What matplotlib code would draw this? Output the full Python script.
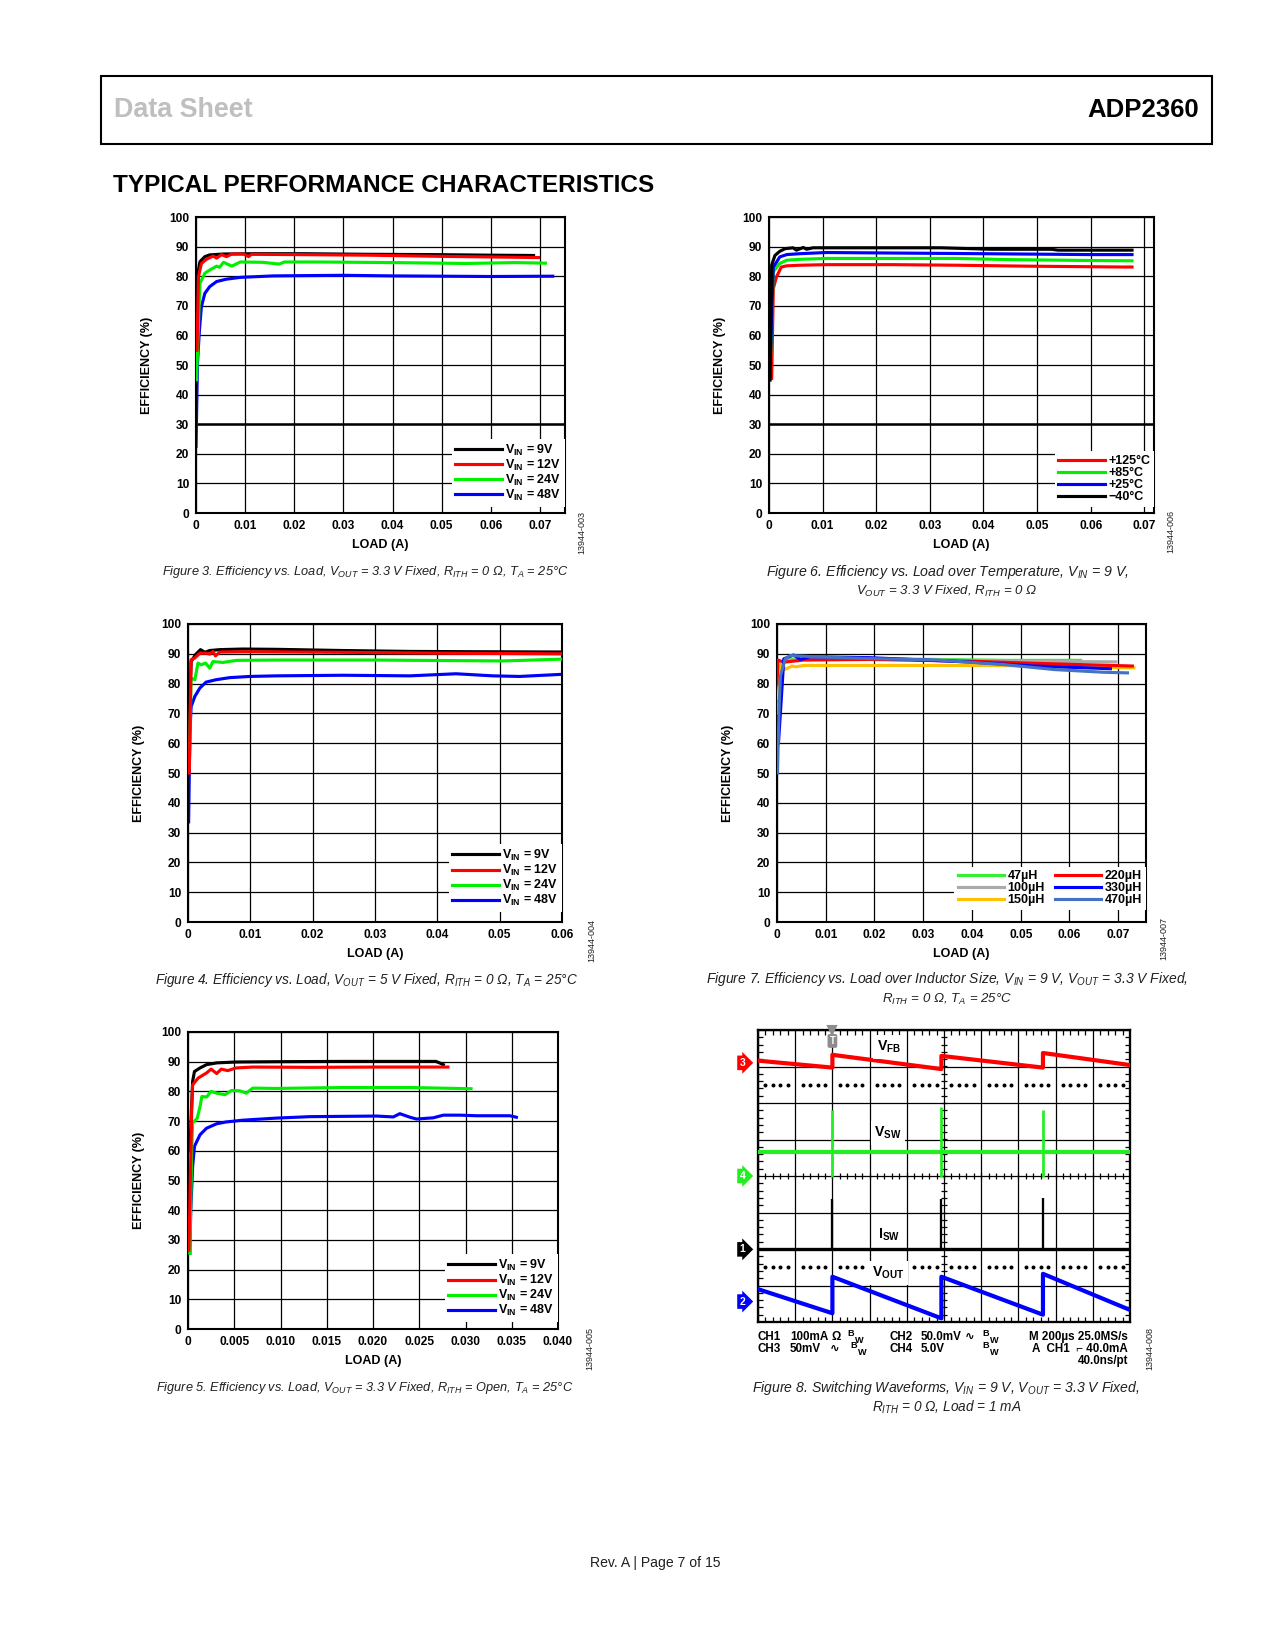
import numpy as np
import matplotlib
matplotlib.use("Agg")
import matplotlib.pyplot as plt
from matplotlib import font_manager
from matplotlib.patches import Rectangle
from matplotlib.ticker import MultipleLocator
from matplotlib.transforms import blended_transform_factory

# ---------------- data ----------------
# Figure 3: Vout = 3.3 V, Rith = 0
f3_load_9v = [0.0001, 0.0004, 0.0008, 0.0018, 0.0028, 0.0056, 0.012, 0.022, 0.035, 0.048, 0.06, 0.0687]
f3_eff_9v = [62.0, 81.0, 84.9, 86.6, 87.2, 87.5, 87.6, 87.6, 87.4, 87.3, 87.1, 87.0]
f3_load_12v = [0.0002, 0.0005, 0.0011, 0.0021, 0.0035, 0.0042, 0.0052, 0.0062, 0.0073, 0.0097,
               0.0107, 0.0113, 0.02, 0.035, 0.05, 0.06, 0.0697]
f3_eff_12v = [55.0, 79.8, 84.3, 85.7, 86.8, 86.1, 87.3, 86.6, 87.5, 87.5,
              86.6, 87.4, 87.3, 87.1, 86.7, 86.5, 86.3]
f3_load_24v = [0.0001, 0.0008, 0.0018, 0.0028, 0.0042, 0.0048, 0.0056, 0.0073, 0.009, 0.0135,
               0.0169, 0.018, 0.025, 0.04, 0.055, 0.065, 0.0711]
f3_eff_24v = [45.0, 77.6, 81.0, 82.1, 83.4, 83.0, 84.7, 83.4, 84.8, 84.7,
              84.1, 84.8, 84.8, 84.6, 84.3, 84.6, 84.4]
f3_load_48v = [0.0, 0.0003, 0.0007, 0.0011, 0.0018, 0.0028, 0.0042, 0.0062, 0.009, 0.0157,
               0.0224, 0.03, 0.04, 0.05, 0.06, 0.0726]
f3_eff_48v = [22.5, 50.6, 61.8, 69.7, 74.2, 76.5, 78.2, 79.0, 79.6, 80.1,
              80.2, 80.3, 80.1, 80.0, 79.9, 80.0]

# Figure 4: Vout = 5 V, Rith = 0
f4_load_9v = [0.0003, 0.0005, 0.0012, 0.002, 0.0027, 0.0035, 0.0051, 0.0088, 0.0142, 0.0249, 0.0356, 0.0463, 0.0599]
f4_eff_9v = [75.0, 87.4, 89.7, 91.4, 90.5, 91.1, 91.4, 91.6, 91.5, 91.1, 90.8, 90.7, 90.6]
f4_load_12v = [0.0002, 0.0005, 0.0011, 0.0019, 0.0029, 0.0035, 0.004, 0.0044, 0.0051, 0.0088, 0.0249, 0.0409, 0.0599]
f4_eff_12v = [50.0, 88.0, 88.6, 90.2, 90.2, 89.9, 90.8, 89.3, 90.6, 90.7, 90.5, 90.2, 90.0]
f4_load_24v = [0.0002, 0.0005, 0.0011, 0.0016, 0.0021, 0.0028, 0.0035, 0.004, 0.0056, 0.0078,
               0.0142, 0.0302, 0.0505, 0.0599]
f4_eff_24v = [52.0, 81.8, 81.3, 86.9, 86.3, 86.9, 85.2, 87.4, 87.1, 87.8,
              87.9, 87.9, 87.6, 88.2]
f4_load_48v = [0.0001, 0.0003, 0.0005, 0.0011, 0.0019, 0.0029, 0.0045, 0.0067, 0.0099, 0.0142,
               0.0249, 0.0356, 0.043, 0.0489, 0.0532, 0.0599]
f4_eff_48v = [33.6, 63.0, 72.3, 75.7, 78.5, 80.5, 81.3, 82.0, 82.4, 82.6,
              82.8, 82.6, 83.3, 82.6, 82.4, 83.1]

# Figure 5: Vout = 3.3 V, Rith = open
f5_load_9v = [0.0002, 0.0005, 0.0007, 0.0013, 0.002, 0.0031, 0.0052, 0.0095, 0.0168, 0.0268, 0.0272, 0.0276]
f5_eff_9v = [60.0, 83.4, 86.7, 87.9, 89.0, 89.6, 89.9, 90.0, 90.1, 90.1, 89.6, 89.0]
f5_load_12v = [0.0001, 0.0004, 0.0005, 0.0011, 0.002, 0.0025, 0.0031, 0.0036, 0.0043, 0.0052,
               0.007, 0.0132, 0.0204, 0.0281]
f5_eff_12v = [26.6, 73.8, 82.2, 84.5, 86.2, 87.5, 86.0, 87.5, 87.0, 87.9,
              88.2, 88.1, 88.2, 88.2]
f5_load_24v = [0.0002, 0.0004, 0.0005, 0.001, 0.0013, 0.0015, 0.002, 0.0025, 0.0031, 0.004,
               0.0047, 0.0056, 0.0063, 0.007, 0.0095, 0.0168, 0.024, 0.0306]
f5_eff_24v = [25.5, 60.0, 69.3, 71.0, 74.9, 78.3, 78.1, 80.0, 79.4, 78.9,
              80.3, 80.2, 79.4, 81.1, 81.0, 81.3, 81.3, 80.9]
f5_load_48v = [0.0002, 0.0003, 0.0005, 0.0007, 0.0013, 0.002, 0.0031, 0.0041, 0.0059, 0.0095,
               0.0132, 0.0204, 0.0222, 0.0229, 0.024, 0.0247, 0.0265, 0.0276, 0.0294, 0.0312,
               0.0348, 0.0355]
f5_eff_48v = [25.5, 40.0, 54.7, 61.5, 65.4, 67.6, 69.1, 69.7, 70.3, 71.0,
              71.5, 71.7, 71.4, 72.5, 71.3, 70.7, 71.1, 72.0, 72.0, 71.8,
              71.8, 71.3]

# Figure 6: over temperature
f6_load_m40 = [0.0002, 0.0005, 0.0011, 0.002, 0.003, 0.0045, 0.0051, 0.0064, 0.007, 0.0082,
               0.032, 0.0415, 0.0527, 0.0539, 0.0677]
f6_eff_m40 = [44.9, 83.7, 87.0, 88.4, 89.3, 89.6, 88.8, 89.7, 89.1, 89.6,
              89.6, 89.1, 89.1, 88.8, 88.8]
f6_load_25 = [0.0002, 0.0008, 0.002, 0.0033, 0.0057, 0.0107, 0.025, 0.04, 0.06, 0.0677]
f6_eff_25 = [50.0, 83.0, 86.5, 87.3, 87.6, 88.0, 87.8, 87.6, 87.3, 87.3]
f6_load_85 = [0.0002, 0.0008, 0.002, 0.0033, 0.0057, 0.0107, 0.035, 0.045, 0.06, 0.0677]
f6_eff_85 = [48.0, 81.5, 84.3, 85.4, 85.7, 86.0, 86.0, 85.6, 85.3, 85.2]
f6_load_125 = [0.0005, 0.0008, 0.0014, 0.0023, 0.0033, 0.0057, 0.0107, 0.023, 0.0354, 0.0477, 0.066, 0.0677]
f6_eff_125 = [45.5, 75.8, 79.8, 83.1, 83.5, 83.7, 83.9, 83.9, 83.7, 83.4, 83.1, 83.1]

# Figure 7: over inductor size
f7_load_47 = [0.0002, 0.0008, 0.0014, 0.0055, 0.019, 0.033, 0.047, 0.0623]
f7_eff_47 = [72.0, 86.0, 87.8, 88.4, 88.4, 88.1, 87.8, 87.8]
f7_load_100 = [0.0002, 0.0008, 0.0014, 0.0055, 0.019, 0.033, 0.047, 0.0695]
f7_eff_100 = [70.0, 85.0, 87.5, 88.3, 88.3, 87.9, 87.5, 87.3]
f7_load_150 = [0.0002, 0.0007, 0.0011, 0.0016, 0.0031, 0.0038, 0.0055, 0.02, 0.046, 0.06, 0.0732]
f7_eff_150 = [75.0, 85.3, 87.0, 84.7, 85.9, 85.6, 86.1, 86.1, 86.1, 85.5, 85.3]
f7_load_220 = [0.0, 0.0002, 0.0014, 0.0055, 0.019, 0.04, 0.053, 0.0729]
f7_eff_220 = [80.0, 87.9, 87.2, 87.9, 88.1, 87.5, 86.8, 85.9]
f7_load_330 = [0.0003, 0.0014, 0.0034, 0.0048, 0.0068, 0.019, 0.04, 0.053, 0.0684]
f7_eff_330 = [60.0, 88.3, 89.6, 88.1, 89.0, 88.7, 87.2, 85.9, 85.0]
f7_load_470 = [0.0001, 0.0004, 0.0007, 0.0017, 0.0027, 0.0055, 0.0075, 0.019, 0.033, 0.0465,
               0.057, 0.0671, 0.0719]
f7_eff_470 = [50.0, 70.0, 82.6, 88.3, 89.4, 89.2, 89.0, 88.4, 87.9, 86.4,
              84.7, 83.8, 83.6]

# Figure 8: scope, time in us, levels in divisions from screen centre
sw_t = [400, 986, 1532]
vfb_t = [0, 400, 400, 986, 986, 1532, 1532, 2000]
vfb_div = [3.16, 2.97, 3.32, 2.93, 3.29, 2.97, 3.37, 3.04]
vout_t = [0, 400, 400, 986, 986, 1532, 1532, 2000]
vout_div = [-3.10, -3.76, -2.76, -3.90, -2.76, -3.80, -2.68, -3.67]
vsw_base = 0.67
vsw_hi = [1.81, 1.90, 1.81]
vsw_lo = [-0.04, -0.04, -0.04]
isw_base = -2.01
isw_hi = [-0.64, -0.64, -0.60]
ch_marks = ["3", "4", "1", "2"]
ch_levels = [3.1, 0.0, -2.01, -3.44]
ch_colors = ["#ff0000", "#22ee22", "#000000", "#0000ff"]
cursor_levels = [2.5, -2.5]

# ---------------- page set-up ----------------
W, H = 1275, 1650
names = {f.name for f in font_manager.fontManager.ttflist}
SANS = "Liberation Sans" if "Liberation Sans" in names else "DejaVu Sans"
NARROW = "Liberation Sans Narrow" if "Liberation Sans Narrow" in names else SANS

plt.rcParams["font.family"] = [SANS, "DejaVu Sans"]
plt.rcParams["font.weight"] = "bold"
plt.rcParams["axes.labelweight"] = "bold"
plt.rcParams["mathtext.default"] = "regular"
plt.rcParams["axes.axisbelow"] = True

fig = plt.figure(figsize=(W / 150, H / 150), dpi=150)
renderer = fig.canvas.get_renderer()


def box(l, t, r, b):
    return [l / W, 1 - b / H, (r - l) / W, (b - t) / H]


def ftext(x, y, s, width=None, **kw):
    t = fig.text(x / W, 1 - y / H, s, **kw)
    if width:
        bb = t.get_window_extent(renderer)
        t.set_fontsize(t.get_fontsize() * width / bb.width)
    return t


def caption(cx, cy, s, width):
    ftext(cx, cy, s, width, family=[NARROW, "DejaVu Sans"], style="italic",
          weight="normal", fontsize=7.5, ha="center", va="center", color="#231f20")


def stamp(x, y, s):
    ftext(x, y, s, family=[NARROW, "DejaVu Sans"], weight="normal", fontsize=4.3,
          rotation=90, ha="center", va="center", color="#231f20")


def eff_panel(px, xmax, xticks, xlabels, series, gap, thick30=False, ncol=1):
    l, t, r, b = px
    ax = fig.add_axes(box(*px))
    handles, labels = [], []
    for lab, xs, ys, col, z in series:
        ln, = ax.plot(xs, ys, color=col, lw=1.5, zorder=2 + z, solid_joinstyle="round")
        handles.append(ln)
        labels.append(lab)
    ax.set_xlim(0, xmax)
    ax.set_ylim(0, 100)
    ax.set_xticks(xticks)
    ax.set_xticklabels(xlabels)
    ax.set_yticks(np.arange(0, 101, 10))
    ax.grid(True, color="black", lw=0.6)
    if thick30:
        ax.axhline(30, color="black", lw=1.2, zorder=1)
    ax.tick_params(length=0, labelsize=5.7)
    ax.tick_params(axis="x", pad=3.4)
    ax.tick_params(axis="y", pad=3.2)
    for s in ax.spines.values():
        s.set_linewidth(1.0)
    ax.set_xlabel("LOAD (A)", fontsize=6.0)
    ax.xaxis.set_label_coords(0.5, -32 / (b - t))
    ax.xaxis.label.set_va("center")
    ax.set_ylabel("EFFICIENCY (%)", fontsize=6.0)
    ax.yaxis.set_label_coords(-49 / (r - l), 0.5)
    ax.yaxis.label.set_va("center")
    leg = ax.legend(handles, labels, loc="lower right", bbox_to_anchor=(1.0, gap / (b - t)),
                    ncol=ncol, frameon=True, fancybox=False, framealpha=1, facecolor="white",
                    edgecolor="none", fontsize=6.0, handlelength=3.7, handletextpad=0.3,
                    labelspacing=0.0, borderpad=0.3, borderaxespad=0.0, columnspacing=0.8)
    leg.get_frame().set_linewidth(0)
    leg.set_zorder(10)
    return ax


RED, GREEN, BLUE, BLACK = "#ff0000", "#00ee00", "#0000ff", "#000000"
x07 = np.arange(0, 0.071, 0.01)
x07_lab = ["0"] + ["%.2f" % v for v in x07[1:]]

# Figure 3
eff_panel((196, 217, 565, 513), 0.0751, x07, x07_lab,
          [(r"V$_{IN}$ = 9V", f3_load_9v, f3_eff_9v, BLACK, 2),
           (r"V$_{IN}$ = 12V", f3_load_12v, f3_eff_12v, RED, 3),
           (r"V$_{IN}$ = 24V", f3_load_24v, f3_eff_24v, GREEN, 1),
           (r"V$_{IN}$ = 48V", f3_load_48v, f3_eff_48v, BLUE, 0)],
          gap=6.3, thick30=True)

# Figure 4
x06 = np.arange(0, 0.061, 0.01)
eff_panel((188, 624, 562, 922), 0.06, x06, ["0"] + ["%.2f" % v for v in x06[1:]],
          [(r"V$_{IN}$ = 9V", f4_load_9v, f4_eff_9v, BLACK, 2),
           (r"V$_{IN}$ = 12V", f4_load_12v, f4_eff_12v, RED, 3),
           (r"V$_{IN}$ = 24V", f4_load_24v, f4_eff_24v, GREEN, 1),
           (r"V$_{IN}$ = 48V", f4_load_48v, f4_eff_48v, BLUE, 0)],
          gap=10)

# Figure 5
x04 = np.arange(0, 0.0401, 0.005)
eff_panel((188, 1032, 558, 1329), 0.04, x04, ["0"] + ["%.3f" % v for v in x04[1:]],
          [(r"V$_{IN}$ = 9V", f5_load_9v, f5_eff_9v, BLACK, 2),
           (r"V$_{IN}$ = 12V", f5_load_12v, f5_eff_12v, RED, 3),
           (r"V$_{IN}$ = 24V", f5_load_24v, f5_eff_24v, GREEN, 1),
           (r"V$_{IN}$ = 48V", f5_load_48v, f5_eff_48v, BLUE, 0)],
          gap=7)

# Figure 6
eff_panel((769, 217, 1154, 513), 0.0718, x07, x07_lab,
          [("+125°C", f6_load_125, f6_eff_125, RED, 0),
           ("+85°C", f6_load_85, f6_eff_85, GREEN, 1),
           ("+25°C", f6_load_25, f6_eff_25, BLUE, 2),
           ("\u221240°C", f6_load_m40, f6_eff_m40, BLACK, 3)],
          gap=6.3, thick30=True)

# Figure 7
eff_panel((777, 624, 1146, 922), 0.0757, x07, x07_lab,
          [("47µH", f7_load_47, f7_eff_47, "#33ee33", 0),
           ("100µH", f7_load_100, f7_eff_100, "#aaaaaa", 1),
           ("150µH", f7_load_150, f7_eff_150, "#ffc000", 2),
           ("220µH", f7_load_220, f7_eff_220, RED, 3),
           ("330µH", f7_load_330, f7_eff_330, BLUE, 4),
           ("470µH", f7_load_470, f7_eff_470, "#4472c4", 5)],
          gap=12, ncol=2)

# Figure 8: switching waveforms
ax8 = fig.add_axes(box(758, 1030, 1130, 1322))
ax8.set_xlim(0, 2000)
ax8.set_ylim(-4, 4)
ax8.set_xticks(np.arange(0, 2001, 200))
ax8.set_yticks(np.arange(-4, 5, 1))
ax8.grid(True, color="black", lw=0.6)
ax8.xaxis.set_minor_locator(MultipleLocator(40))
ax8.yaxis.set_minor_locator(MultipleLocator(0.2))
ax8.tick_params(which="major", length=0, labelbottom=False, labelleft=False)
ax8.tick_params(which="minor", direction="in", length=2.2, width=0.6,
                top=True, right=True, bottom=True, left=True)
for s in ax8.spines.values():
    s.set_linewidth(1.1)
dots = [v for v in np.arange(0, 2000, 40) if v % 200]
for lev in cursor_levels:
    ax8.plot(dots, np.full(len(dots), lev), ls="none", marker="o", ms=0.9, color="black")
ax8.plot(np.full(41, 1000), np.arange(-4, 4.01, 0.2), ls="none", marker="_", ms=3, mew=0.6, color="black")
ax8.plot(np.arange(0, 2001, 40), np.zeros(51), ls="none", marker="|", ms=3, mew=0.6, color="black")

ax8.plot(vfb_t, vfb_div, color="#ff0000", lw=2.0, zorder=4)
ax8.axhline(vsw_base, color="#22ee22", lw=2.0, zorder=4)
ax8.vlines(sw_t, vsw_lo, vsw_hi, color="#22ee22", lw=1.3, zorder=4)
ax8.axhline(isw_base, color="black", lw=1.6, zorder=4)
ax8.vlines(sw_t, isw_base, isw_hi, color="black", lw=1.1, zorder=4)
ax8.plot(vout_t, vout_div, color="#0000ff", lw=2.0, zorder=4)

for s, tx, ty in [(r"V$_{FB}$", 703, 3.54), (r"V$_{SW}$", 700, 1.18),
                  (r"I$_{SW}$", 703, -1.62), (r"V$_{OUT}$", 700, -2.66)]:
    ax8.text(tx, ty, s, fontsize=6.8, ha="center", va="center", zorder=6,
             bbox=dict(boxstyle="square,pad=0.25", fc="white", ec="none"))

ax8.text(sw_t[0], 3.7, "T", fontsize=4.6, color="white", ha="center", va="center", zorder=7,
         bbox=dict(boxstyle="round,pad=0.2", fc="#8c8c8c", ec="none"))
ax8.plot([sw_t[0]], [4.0], marker="v", ms=3.5, color="#8c8c8c", clip_on=False, zorder=7)

btrans = blended_transform_factory(ax8.transAxes, ax8.transData)
for m, lev, col in zip(ch_marks, ch_levels, ch_colors):
    ax8.text(-0.042, lev, m, transform=btrans, fontsize=5.0, color="white", ha="center",
             va="center", clip_on=False,
             bbox=dict(boxstyle="rarrow,pad=0.22", fc=col, ec="none"))

# scope readout
ro = dict(fontsize=5.6, va="center", ha="left")
sub = dict(fontsize=4.4, va="center", ha="left")
fam = [SANS, "DejaVu Sans"]
for x, y, s, kw in [(758, 1337, "CH1", ro), (790, 1337, "100mA", ro), (832, 1337, "Ω", ro),
                    (847, 1333.5, "B", sub), (855, 1340.5, "W", sub),
                    (890, 1337, "CH2", ro), (921, 1337, "50.0mV", ro), (965, 1337, "∿", ro),
                    (982, 1333.5, "B", sub), (990, 1340.5, "W", sub),
                    (758, 1349, "CH3", ro), (790, 1349, "50mV", ro), (830, 1349, "∿", ro),
                    (850, 1345.5, "B", sub), (858, 1352.5, "W", sub),
                    (890, 1349, "CH4", ro), (921, 1349, "5.0V", ro),
                    (982, 1345.5, "B", sub), (990, 1352.5, "W", sub)]:
    ftext(x, y, s, family=fam, **kw)
ftext(1128, 1337, "M 200µs 25.0MS/s", family=fam, fontsize=5.6, va="center", ha="right")
ftext(1128, 1349, "A  CH1  \u2310 40.0mA", family=fam, fontsize=5.6, va="center", ha="right")
ftext(1128, 1361, "40.0ns/pt", family=fam, fontsize=5.6, va="center", ha="right")

# ---------------- page text ----------------
fig.add_artist(Rectangle((101 / W, 1 - 144 / H), (1212 - 101) / W, (144 - 76) / H,
                         transform=fig.transFigure, fill=False, lw=1.0, ec="black"))
hdr = dict(family=[NARROW, "DejaVu Sans"], weight="bold", fontsize=16, va="center")
ftext(113.5, 110, "Data Sheet", 139, color="#bfbfbf", ha="left", **hdr)
ftext(1199, 110, "ADP2360", 112, color="black", ha="right", **hdr)
ftext(112.5, 185.5, "TYPICAL PERFORMANCE CHARACTERISTICS", 542, color="black", ha="left", **hdr)

caption(365.5, 572, r"Figure 3. Efficiency vs. Load, V$_{OUT}$ = 3.3 V Fixed, R$_{ITH}$ = 0 Ω, T$_{A}$ = 25°C", 405)
caption(366, 980, r"Figure 4. Efficiency vs. Load, V$_{OUT}$ = 5 V Fixed, R$_{ITH}$ = 0 Ω, T$_{A}$ = 25°C", 422)
caption(365, 1388, r"Figure 5. Efficiency vs. Load, V$_{OUT}$ = 3.3 V Fixed, R$_{ITH}$ = Open, T$_{A}$ = 25°C", 417)
caption(947, 572, r"Figure 6. Efficiency vs. Load over Temperature, V$_{IN}$ = 9 V,", 364)
caption(947, 591, r"V$_{OUT}$ = 3.3 V Fixed, R$_{ITH}$ = 0 Ω", 181)
caption(947, 979.5, r"Figure 7. Efficiency vs. Load over Inductor Size, V$_{IN}$ = 9 V, V$_{OUT}$ = 3.3 V Fixed,", 484)
caption(947, 999, r"R$_{ITH}$ = 0 Ω, T$_{A}$ = 25°C", 130)
caption(946, 1388, r"Figure 8. Switching Waveforms, V$_{IN}$ = 9 V, V$_{OUT}$ = 3.3 V Fixed,", 388)
caption(947, 1407, r"R$_{ITH}$ = 0 Ω, Load = 1 mA", 150)

stamp(582, 532, "13944-003")
stamp(591.5, 940, "13944-004")
stamp(590, 1348, "13944-005")
stamp(1171, 531, "13944-006")
stamp(1163.5, 939, "13944-007")
stamp(1150, 1348, "13944-008")

ftext(655, 1563, "Rev. A | Page 7 of 15", 131, family=[NARROW, "DejaVu Sans"], weight="normal",
      fontsize=7, ha="center", va="center", color="#231f20")

fig.savefig("out.png", dpi=150)
